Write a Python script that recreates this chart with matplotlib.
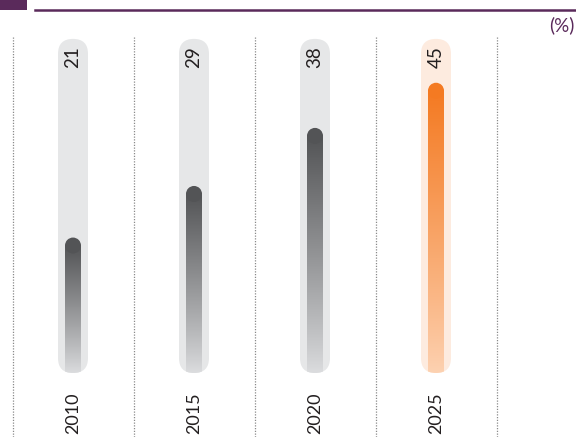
import numpy as np
import matplotlib.pyplot as plt
from matplotlib.patches import FancyBboxPatch, Ellipse, Rectangle
from matplotlib.lines import Line2D
from matplotlib.colors import to_rgb

plt.rcParams['font.family'] = ['Lato', 'DejaVu Sans']

# data
years = ['2010', '2015', '2020', '2025']
values = [21, 29, 38, 45]
highlight = '2025'
unit = '(%)'

# colours
purple = '#5a2a5b'
grey_track, grey_top, grey_bot = '#e6e7e8', '#535456', '#dcdddf'
orange_track, orange_top, orange_bot = '#fdebdf', '#f47a22', '#fdd2b2'

# layout (pixels)
W, H = 576, 437
px_x, px_y = 121.0, 6.45      # px per category, px per percent
base_px, x0_px = 373, 73
track_top = 51.8
track_w, bar_w = 30 / px_x, 16 / px_x

fig = plt.figure(figsize=(W / 100, H / 100), dpi=100)
ax = fig.add_axes([0, 0, 1, 1])
xlim = (-x0_px / px_x, (W - x0_px) / px_x)
ylim = (-(H - base_px) / px_y, base_px / px_y)
asp = px_x / px_y


def gradient(top, bot, n=256):
    t = np.linspace(0, 1, n)
    s = t ** 0.9
    top, bot = np.array(to_rgb(top)), np.array(to_rgb(bot))
    return (bot + (top - bot) * s[:, None])[:, None, :]


for i, (yr, v) in enumerate(zip(years, values)):
    hi = yr == highlight
    track_c = orange_track if hi else grey_track
    top_c = orange_top if hi else grey_top
    bot_c = orange_bot if hi else grey_bot

    track = FancyBboxPatch((i - track_w / 2, 0), track_w, track_top,
                           boxstyle=f"round,pad=0,rounding_size={track_w / 2}",
                           mutation_aspect=asp, fc=track_c, ec='none', zorder=1)
    ax.add_patch(track)

    r_y = (bar_w / 2) * asp
    im = ax.imshow(gradient(top_c, bot_c), origin='lower', aspect='auto',
                   extent=(i - bar_w / 2, i + bar_w / 2, 0, v - r_y),
                   interpolation='bilinear', zorder=2)
    im.set_clip_path(track)
    ax.add_patch(Ellipse((i, v - r_y), bar_w, 2 * r_y, fc=top_c, ec='none', zorder=2))

    ax.annotate(str(v), xy=(i, track_top), xytext=(0, -7), textcoords='offset pixels',
                rotation=90, ha='center', va='top', fontsize=13.5, color='#231f20', zorder=3)
    ax.annotate(yr, xy=(i, 0), xytext=(0, -19), textcoords='offset pixels',
                rotation=90, ha='center', va='top', fontsize=13, color='#231f20')

# dotted separators between columns
for k in range(len(years) + 1):
    ax.axvline(k - 0.5, ymin=0, ymax=(H - 36) / H, color='#8a8a8a',
               lw=0.9, ls=(0, (1, 1.2)), zorder=0)

ax.set_xlim(*xlim)
ax.set_ylim(*ylim)
ax.axis('off')

# header
fig.add_artist(Rectangle((0, 1 - 10 / H), 27 / W, 10 / H, transform=fig.transFigure,
                         fc=purple, ec='none'))
fig.add_artist(Line2D([35 / W, 1], [1 - 10.3 / H] * 2, transform=fig.transFigure,
                      color=purple, lw=1.8))
fig.text(1 - 2 / W, 1 - 25 / H, unit, ha='right', va='center', fontsize=13.5, color=purple)

fig.savefig('out.png', dpi=100)
